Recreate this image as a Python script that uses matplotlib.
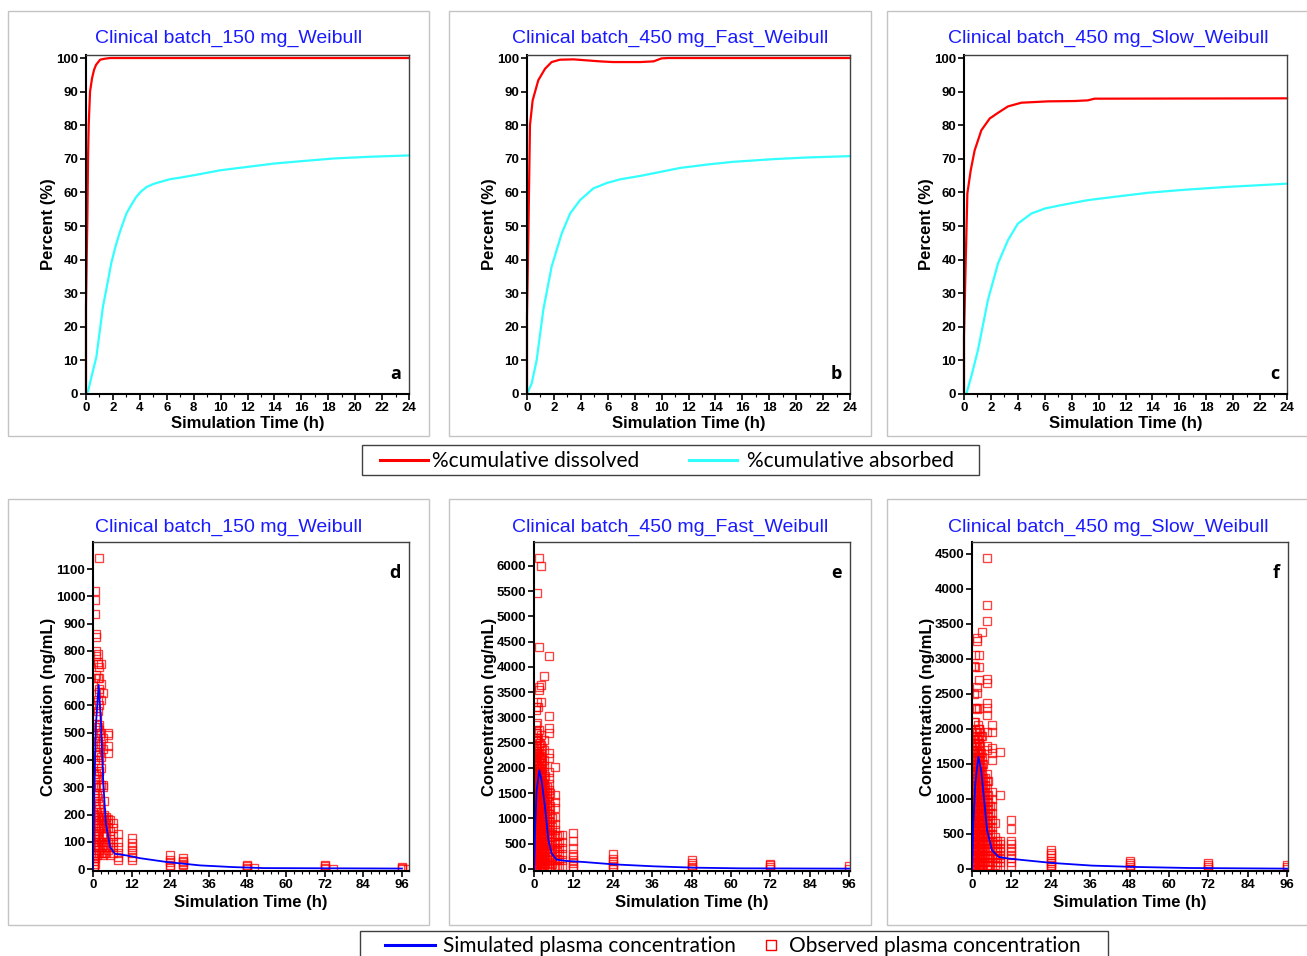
import matplotlib
matplotlib.use("Agg")
import matplotlib.pyplot as plt
from matplotlib.patches import Rectangle
from matplotlib.lines import Line2D
from matplotlib.ticker import MultipleLocator

# ---------------- data: dissolution / absorption (top row) ----------------
titles_top = ["Clinical batch_150 mg_Weibull", "Clinical batch_450 mg_Fast_Weibull",
              "Clinical batch_450 mg_Slow_Weibull"]
letters_top = ["a", "b", "c"]
letters_bot = ["d", "e", "f"]

diss_a_t = [0, 0.0, 0.05, 0.1, 0.15, 0.2, 0.3, 0.45, 0.6, 0.75, 1.05, 1.4, 1.8, 3, 24]
diss_a_v = [0, 26, 40, 52, 70, 80, 90, 94, 96.5, 98, 99.5, 99.8, 100, 100, 100]
abs_a_t = [0, 0.15, 0.4, 0.77, 1.0, 1.26, 1.6, 1.88, 2.2, 2.5, 3.0, 3.4, 3.74, 4.1, 4.5,
           5.0, 5.5, 6.2, 7, 8, 10, 12, 14, 16, 18.4, 21, 24]
abs_a_v = [0, 0.8, 5, 11, 18, 26, 33, 39, 44, 48, 53.7, 56.5, 58.7, 60.3, 61.6,
           62.5, 63.1, 63.9, 64.4, 65.1, 66.6, 67.6, 68.6, 69.3, 70.1, 70.6, 71.0]

diss_b_t = [0, 0.0, 0.05, 0.1, 0.22, 0.42, 0.84, 1.34, 1.83, 2.45, 3.45, 4.44, 5.43, 6.4,
            8.4, 9.4, 10.0, 10.5, 24]
diss_b_v = [0, 23, 35, 47, 80, 87.4, 93.4, 96.8, 98.8, 99.5, 99.6, 99.3, 99.0, 98.8,
            98.8, 99.0, 99.9, 100, 100]
abs_b_t = [0, 0.35, 0.72, 1.21, 1.83, 2.58, 3.2, 3.94, 4.93, 5.93, 6.92, 8.4, 9.9, 11.4,
           13.4, 15.3, 18.3, 20.8, 24]
abs_b_v = [0, 3.2, 10.1, 25, 37.9, 47.8, 53.7, 57.7, 61.2, 62.8, 63.9, 64.9, 66.1, 67.3,
           68.3, 69.1, 69.9, 70.4, 70.8]

diss_c_t = [0, 0.0, 0.1, 0.25, 0.5, 0.79, 1.29, 1.91, 2.53, 3.27, 4.26, 6.24, 8.2, 9.2,
            9.7, 24]
diss_c_v = [0, 17, 35, 59.7, 66.6, 72.5, 78.5, 82, 83.7, 85.6, 86.7, 87.1, 87.2, 87.4,
            87.9, 88.0]
abs_c_t = [0, 0.17, 0.54, 1.04, 1.78, 2.53, 3.27, 4.0, 5.0, 6.0, 7.2, 9.2, 11.2, 13.7,
           16.1, 19.4, 24]
abs_c_v = [0, 0, 5.2, 13.1, 28, 38.9, 45.8, 50.7, 53.7, 55.2, 56.2, 57.7, 58.7, 59.9,
           60.7, 61.6, 62.6]

# ---------------- data: plasma concentration (bottom row) ----------------
sim_d_t = [0, 0.2, 0.4, 0.93, 1.76, 2.5, 3.2, 4.0, 5.3, 6.8, 10.5, 14.6, 22.9, 33.3, 43.6,
           53, 96]
sim_d_c = [0, 120, 289, 534, 675, 534, 314, 167, 81, 56, 50, 40, 26, 13.5, 7.3, 3.7, 2]
sim_e_t = [0, 0.2, 0.4, 0.8, 1.63, 2.3, 3.35, 4.4, 5.4, 6.9, 10, 15, 24.2, 36.4, 48.6,
           62.8, 96]
sim_e_c = [0, 400, 898, 1558, 1954, 1756, 1228, 568, 304, 185, 158, 139, 92, 53, 26, 13, 7]
sim_f_t = [0, 0.2, 0.4, 1.0, 1.93, 2.8, 3.6, 4.6, 6.1, 8.1, 11.2, 16.3, 24.4, 36.6, 49.8,
           66, 96]
sim_f_c = [0, 300, 649, 1222, 1603, 1412, 1031, 554, 267, 172, 148, 124, 86, 48, 29, 14, 5]

obs_d_times = [0.25, 0.4, 0.5, 0.75, 1.0, 1.25, 1.5, 1.75, 2.0, 2.5, 3.0, 3.5, 4.0, 4.7,
               5.2, 6.3, 7.9, 12, 24, 28, 48, 50, 72, 74.5, 96, 98]
obs_d_vals = [
    [0, 10, 30, 60, 100, 180, 250],
    [10, 40, 80, 130, 200, 280, 350],
    [20, 50, 90, 120, 170, 200, 230, 280, 330, 470, 520, 935, 1020],
    [40, 80, 110, 150, 190, 260, 310, 400, 480, 600, 700, 985],
    [60, 100, 140, 180, 220, 300, 350, 430, 500, 560, 640, 710, 780, 800, 850, 860],
    [50, 90, 130, 170, 210, 270, 340, 420, 490, 560],
    [80, 120, 160, 190, 260, 330, 380, 420, 470, 520, 580, 620, 700, 750, 760, 790],
    [60, 100, 140, 190, 240, 300, 360, 430, 530, 650],
    [70, 110, 150, 180, 220, 300, 360, 400, 450, 510, 600, 660, 700, 740, 1140],
    [60, 100, 150, 180, 210, 310, 370, 410, 460, 500, 620, 680, 750],
    [50, 90, 120, 160, 190, 300, 310, 440, 480, 645],
    [60, 90, 120, 150, 180, 200, 250],
    [60, 80, 100, 130, 150, 180, 190],
    [70, 100, 150, 170, 185, 425, 450, 490, 500],
    [50, 80, 110, 140, 180],
    [60, 80, 100, 120, 150, 170],
    [33, 45, 60, 80, 100, 130],
    [33, 45, 60, 70, 80, 95, 113],
    [7, 15, 25, 35, 50],
    [15, 20, 25, 30, 40],
    [0, 5, 10, 15],
    [5],
    [0, 5, 10, 15],
    [0],
    [0, 5, 8],
    [0],
]

obs_e_times = [0.1, 0.25, 0.4, 0.5, 0.6, 0.75, 0.9, 1.0, 1.25, 1.5, 1.75, 2.0, 2.25, 2.5,
               2.75, 3.0, 3.5, 4.0, 4.5, 5.0, 5.5, 6.3, 7.0, 7.5, 8.5, 12, 24, 48, 72, 96]
obs_e_vals = [
    [0, 150, 300, 450, 600, 800],
    [0, 120, 240, 360, 480, 600, 720, 840, 960, 1080, 1200, 1350, 1500],
    [30, 180, 330, 480, 630, 780, 930, 1080, 1230, 1380, 1530, 1700, 1900, 2150],
    [0, 120, 240, 360, 480, 600, 720, 840, 960, 1080, 1200, 1320, 1440, 1560, 1680, 1800,
     1920, 2040, 2160, 2280, 2400, 2550, 2700, 2850, 3150, 3200],
    [90, 240, 390, 540, 690, 840, 990, 1140, 1290, 1440, 1590, 1740, 1950, 2200, 2450],
    [60, 180, 300, 420, 540, 660, 780, 900, 1020, 1140, 1260, 1380, 1500, 1620, 1740, 1860,
     1980, 2100, 2220, 2340, 2460, 2600, 2750],
    [30, 180, 330, 480, 630, 780, 930, 1080, 1230, 1380, 1530, 1680, 1830, 2000, 2250, 2600],
    [0, 120, 240, 360, 480, 600, 720, 840, 960, 1080, 1200, 1320, 1440, 1560, 1680, 1800,
     1920, 2040, 2160, 2280, 2400, 2550, 2700, 2900, 3300, 5470],
    [90, 240, 390, 540, 690, 840, 990, 1140, 1290, 1440, 1590, 1740, 1890, 2050, 2300, 2600,
     3200],
    [60, 180, 300, 420, 540, 660, 780, 900, 1020, 1140, 1260, 1380, 1500, 1620, 1740, 1860,
     1980, 2100, 2220, 2340, 2500, 2750, 3550, 3600, 4400, 6150],
    [30, 180, 330, 480, 630, 780, 930, 1080, 1230, 1380, 1530, 1680, 1830, 2000, 2200, 2500],
    [0, 120, 240, 360, 480, 600, 720, 840, 960, 1080, 1200, 1320, 1440, 1560, 1680, 1800,
     1920, 2040, 2160, 2280, 2450, 2650, 3300, 3650, 5990],
    [90, 240, 390, 540, 690, 840, 990, 1140, 1290, 1440, 1590, 1740, 1900, 2100],
    [60, 180, 300, 420, 540, 660, 780, 900, 1020, 1140, 1260, 1380, 1500, 1620, 1740, 1860,
     1980, 2100, 2220, 2400],
    [30, 180, 330, 480, 630, 780, 930, 1080, 1230, 1380, 1530, 1700],
    [0, 120, 240, 360, 480, 600, 720, 840, 960, 1080, 1200, 1320, 1440, 1560, 1680, 1800,
     1920, 2040, 2160, 2350, 2550, 3820],
    [90, 240, 390, 540, 690, 840, 990, 1140, 1290, 1440, 1600, 1850],
    [60, 180, 300, 420, 540, 660, 780, 900, 1020, 1140, 1260, 1380, 1500, 1620],
    [0, 120, 240, 360, 480, 600, 720, 840, 960, 1080, 1200, 1320, 1440, 1560, 1680, 1800,
     1920, 2200, 2300, 2700, 2800, 3020, 4220],
    [30, 180, 330, 480, 630, 780, 930, 1080, 1250, 1500],
    [90, 240, 390, 540, 690, 840, 1000],
    [60, 180, 300, 420, 540, 660, 780, 900, 1020, 1200, 1330, 1470, 2010],
    [60, 200, 350, 500, 650],
    [60, 180, 300, 420, 540, 670],
    [60, 180, 300, 420, 540, 670],
    [0, 60, 120, 180, 240, 300, 420, 560, 710],
    [0, 50, 100, 150, 200, 300],
    [0, 40, 80, 120, 170],
    [0, 40, 80, 100],
    [0, 50],
]

obs_f_times = [0.1, 0.25, 0.4, 0.5, 0.6, 0.75, 0.9, 1.0, 1.25, 1.5, 1.75, 2.0, 2.25, 2.5,
               2.75, 3.0, 3.5, 4.0, 4.5, 5.0, 5.5, 6.0, 7.0, 7.5, 8.5, 12, 24, 48, 72, 96]
obs_f_vals = [
    [0, 100, 200, 350, 500],
    [0, 100, 200, 300, 400, 500, 600, 700, 800, 900, 1000, 1100, 1200],
    [50, 150, 250, 350, 450, 550, 650, 750, 850, 950, 1050, 1150, 1300, 1500, 1700],
    [0, 100, 200, 300, 400, 500, 600, 700, 800, 900, 1000, 1100, 1200, 1300, 1400, 1500,
     1600, 1700, 2500, 2900],
    [0, 100, 200, 300, 400, 500, 600, 700, 800, 900, 1000, 1100, 1200, 1350, 1550, 1800,
     2100],
    [50, 150, 250, 350, 450, 550, 650, 750, 850, 950, 1050, 1150, 1250, 1350, 1450, 1550,
     1650, 1750, 1850],
    [50, 150, 250, 350, 450, 550, 650, 750, 850, 950, 1050, 1150, 1250, 1350, 1450, 1550,
     1650, 1800, 2000],
    [0, 100, 200, 300, 400, 500, 600, 700, 800, 900, 1000, 1100, 1200, 1300, 1400, 1500,
     1600, 1700, 1800, 1900, 2100, 2300, 2890, 3060],
    [0, 100, 200, 300, 400, 500, 600, 700, 800, 900, 1000, 1100, 1200, 1300, 1400, 1500,
     1600, 1750, 1950, 2300],
    [50, 150, 250, 350, 450, 550, 650, 750, 850, 950, 1050, 1150, 1250, 1350, 1450, 1550,
     1650, 1750, 1850, 1950, 2280, 2510, 2600, 3250, 3300],
    [50, 150, 250, 350, 450, 550, 650, 750, 850, 950, 1050, 1150, 1250, 1350, 1450, 1550,
     1650, 1850, 2050],
    [0, 100, 200, 300, 400, 500, 600, 700, 800, 900, 1000, 1100, 1200, 1300, 1400, 1500,
     1600, 1700, 1800, 1900, 2000, 2300, 2700, 2890, 3060],
    [0, 100, 200, 300, 400, 500, 600, 700, 800, 900, 1000, 1100, 1200, 1300, 1400, 1500,
     1600, 1800, 2000],
    [50, 150, 250, 350, 450, 550, 650, 750, 850, 950, 1050, 1150, 1250, 1350, 1450, 1550,
     1650, 1750, 1950],
    [50, 150, 250, 350, 450, 550, 650, 750, 850, 950, 1050, 1150, 1250, 1350, 1450, 1650,
     1900],
    [0, 100, 200, 300, 400, 500, 600, 700, 800, 900, 1000, 1100, 1200, 1300, 1400, 1500,
     1600, 1900, 3380],
    [0, 100, 200, 300, 400, 500, 600, 700, 800, 900, 1000, 1100, 1200, 1300, 1500],
    [100, 200, 300, 400, 500, 600, 700, 800, 900, 1000, 1100, 1200, 1300],
    [50, 150, 250, 350, 450, 550, 650, 750, 850, 950, 1050, 1150, 1250, 1350, 1700, 1750,
     1950, 2200, 2300, 2370, 2650, 2720, 3540, 3770, 4440],
    [50, 150, 250, 350, 450, 550, 650, 750, 850, 950, 1050, 1250],
    [0, 100, 200, 300, 400, 500, 600, 700, 800, 900],
    [100, 200, 300, 400, 500, 600, 700, 800, 900, 1000, 1100, 1550, 1650, 1730, 1960, 2060],
    [50, 150, 250, 350, 450, 650],
    [40, 100, 150, 200, 250, 300, 350, 400],
    [40, 100, 150, 200, 250, 300, 350, 400, 1060, 1670],
    [40, 100, 150, 200, 250, 300, 350, 400, 570, 700],
    [0, 30, 60, 90, 120, 150, 200, 230, 270],
    [0, 30, 60, 90, 120],
    [0, 30, 60, 90],
    [0, 30, 60],
]

# ---------------- figure ----------------
W, H = 1307, 956
fig = plt.figure(figsize=(W / 100, H / 100), dpi=100)
fig.patch.set_facecolor("white")

TICKSIZE = 9.5
LABFONT = dict(family="Liberation Sans", weight="bold", size=12)


def add_ax(l, t, r, b):
    return fig.add_axes([l / W, 1 - b / H, (r - l) / W, (b - t) / H])


def style(ax):
    for s in ["left", "bottom"]:
        ax.spines[s].set_linewidth(1.5)
        ax.spines[s].set_color("black")
    for s in ["top", "right"]:
        ax.spines[s].set_linewidth(1.0)
        ax.spines[s].set_color("#404040")
    ax.tick_params(which="major", direction="out", length=4, width=1.2, pad=1.5,
                   top=False, right=False)
    ax.tick_params(which="minor", direction="out", length=2, width=0.8,
                   top=False, right=False)
    for lab in ax.get_xticklabels() + ax.get_yticklabels():
        lab.set_fontfamily("Liberation Sans")
        lab.set_fontweight("bold")
        lab.set_fontsize(TICKSIZE)


def frame(l, t, r, b):
    fig.patches.append(Rectangle((l / W, 1 - b / H), (r - l) / W, (b - t) / H,
                                 transform=fig.transFigure, fill=False,
                                 edgecolor="#c4c4c4", linewidth=1.0))


# panel frames
for (l, r) in [(8, 429), (449, 871), (887, 1310)]:
    frame(l, 11, r, 436)
    frame(l, 499, r, 925)

top_x = [(86, 409), (527, 850), (964, 1287)]
top_data = [(diss_a_t, diss_a_v, abs_a_t, abs_a_v),
            (diss_b_t, diss_b_v, abs_b_t, abs_b_v),
            (diss_c_t, diss_c_v, abs_c_t, abs_c_v)]
title_x = [229, 670, 1108]

for i in range(3):
    l, r = top_x[i]
    ax = add_ax(l, 55, r, 394)
    dt, dv, at, av = top_data[i]
    ax.plot(at, av, color="#33ffff", lw=1.6, solid_joinstyle="round", clip_on=False)
    ax.plot(dt, dv, color="#ff0000", lw=1.6, solid_joinstyle="round", clip_on=False)
    ax.set_xlim(0, 24)
    ax.set_ylim(0, 100.9)
    ax.set_xticks(range(0, 25, 2))
    ax.xaxis.set_minor_locator(MultipleLocator(1))
    ax.set_yticks(range(0, 101, 10))
    style(ax)
    ax.set_xlabel("Simulation Time (h)", fontdict=LABFONT, labelpad=2)
    ax.set_ylabel("Percent (%)", fontdict=LABFONT, labelpad=0)
    ax.text(0.975, 0.06, letters_top[i], transform=ax.transAxes, ha="right",
            va="center", fontsize=13, fontweight="bold", family="Open Sans")
    fig.text(title_x[i] / W, 1 - 38 / H, titles_top[i], color="#1a1aff",
             ha="center", va="center", fontsize=14, family="Liberation Sans")

bot_x = [(93, 409, 98.2), (534, 850, 96.3), (972, 1288, 96.3)]
bot_ylim = [(-7, 1199), (-40, 6475), (-29, 4671)]
bot_ystep = [100, 500, 500]
bot_ymax = [1100, 6000, 4500]
bot_sim = [(sim_d_t, sim_d_c), (sim_e_t, sim_e_c), (sim_f_t, sim_f_c)]
bot_obs = [(obs_d_times, obs_d_vals), (obs_e_times, obs_e_vals),
           (obs_f_times, obs_f_vals)]

for i in range(3):
    l, r, xm = bot_x[i]
    ax = add_ax(l, 542, r, 871)
    times, vals = bot_obs[i]
    xs, ys = [], []
    for t, vs in zip(times, vals):
        for v in vs:
            xs.append(t)
            ys.append(v)
    ax.plot(xs, ys, ls="none", marker="s", ms=5.8, mfc="none",
            mec=(1, 0, 0, 0.75), mew=0.95)
    st, sc = bot_sim[i]
    ax.plot(st, sc, color="#0000ff", lw=1.3, zorder=3)
    ax.set_xlim(0, xm)
    ax.set_ylim(*bot_ylim[i])
    ax.set_xticks(range(0, 97, 12))
    ax.xaxis.set_minor_locator(MultipleLocator(2.4))
    ax.set_yticks(range(0, bot_ymax[i] + 1, bot_ystep[i]))
    style(ax)
    ax.set_xlabel("Simulation Time (h)", fontdict=LABFONT, labelpad=3)
    ax.set_ylabel("Concentration (ng/mL)", fontdict=LABFONT, labelpad=0)
    ax.text(0.975, 0.905, letters_bot[i], transform=ax.transAxes, ha="right",
            va="center", fontsize=13, fontweight="bold", family="Open Sans")
    fig.text(title_x[i] / W, 1 - 527 / H, titles_top[i], color="#1a1aff",
             ha="center", va="center", fontsize=14, family="Liberation Sans")

# ---------------- legends ----------------
LEGFONT = dict(family="Lato", size=15)


def fline(x0, x1, y, color, lw):
    fig.lines.append(Line2D([x0 / W, x1 / W], [1 - y / H, 1 - y / H],
                            transform=fig.transFigure, color=color, lw=lw))


fig.patches.append(Rectangle((362 / W, 1 - 475 / H), (979 - 362) / W, 30 / H,
                             transform=fig.transFigure, fill=False,
                             edgecolor="#404040", lw=1.0))
fline(380, 428, 460, "#ff0000", 2.2)
fig.text(432 / W, 1 - 461 / H, "%cumulative dissolved", va="center", ha="left", **LEGFONT)
fline(689, 737, 460, "#33ffff", 2.2)
fig.text(747 / W, 1 - 461 / H, "%cumulative absorbed", va="center", ha="left", **LEGFONT)

fig.patches.append(Rectangle((360 / W, 1 - 975 / H), (1108 - 360) / W, 44 / H,
                             transform=fig.transFigure, fill=False,
                             edgecolor="#404040", lw=1.0))
fline(385, 435, 945, "#0000ff", 2.2)
fig.text(443 / W, 1 - 946 / H, "Simulated plasma concentration", va="center",
         ha="left", **LEGFONT)
fig.lines.append(Line2D([771 / W], [1 - 945 / H], transform=fig.transFigure,
                        ls="none", marker="s", ms=7, mfc="none", mec="#ff0000", mew=1.0))
fig.text(789 / W, 1 - 946 / H, "Observed plasma concentration", va="center",
         ha="left", **LEGFONT)

fig.savefig("out.png", dpi=100)
